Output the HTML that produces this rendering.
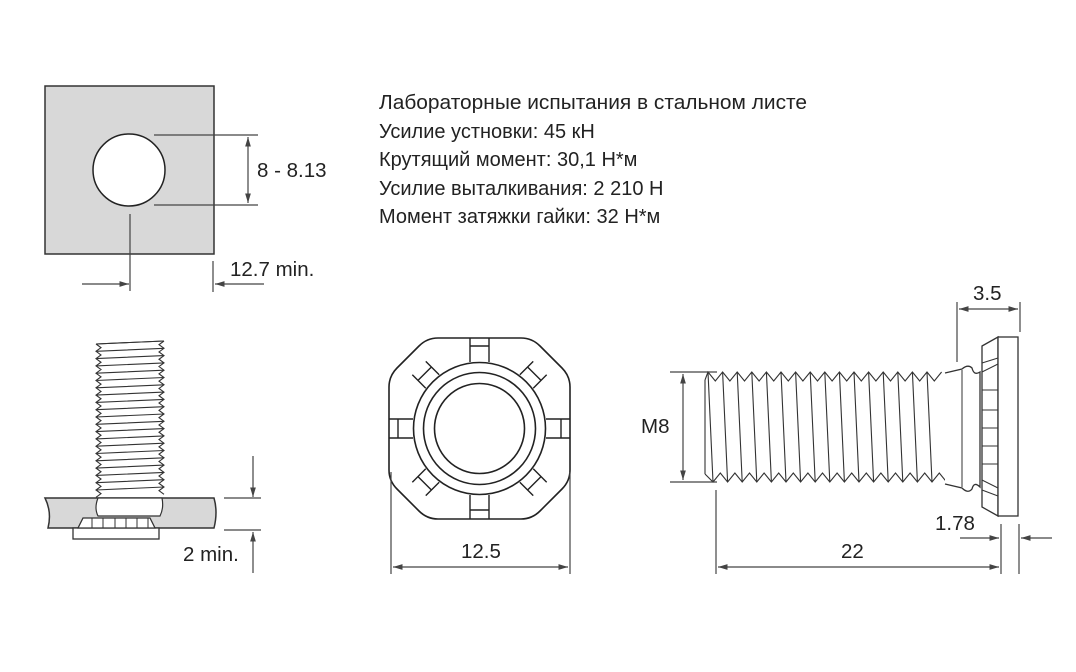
<!DOCTYPE html>
<html><head><meta charset="utf-8"><style>
html,body{margin:0;padding:0;background:#fff;}
svg{display:block;}
text{font-family:"Liberation Sans",sans-serif;fill:#222;}
</style></head><body>
<svg id="s" width="1076" height="672" viewBox="0 0 1076 672" xmlns="http://www.w3.org/2000/svg">
<defs>
<marker id="a" viewBox="0 0 10 10" refX="10" refY="5" markerWidth="8" markerHeight="8" orient="auto-start-reverse"><path d="M0,2 L10,5 L0,8 z" fill="#444"/></marker>
</defs>
<rect x="45" y="86" width="169" height="168" fill="#d8d8d8" stroke="#333" stroke-width="1.5"/>
<circle cx="129" cy="170" r="36" fill="#fff" stroke="#222" stroke-width="1.5"/>
<g stroke="#444" stroke-width="1.2" fill="none">
<line x1="154" y1="135" x2="258" y2="135"/><line x1="154" y1="205" x2="258" y2="205"/>
<line x1="248" y1="137" x2="248" y2="203" marker-start="url(#a)" marker-end="url(#a)"/>
<line x1="130" y1="214" x2="130" y2="291"/><line x1="213" y1="261" x2="213" y2="292"/>
<line x1="82" y1="284" x2="129" y2="284" marker-end="url(#a)"/>
<line x1="264" y1="284" x2="215" y2="284" marker-end="url(#a)"/>
</g>
<text x="257" y="177" font-size="20.5">8 - 8.13</text>
<text x="230" y="276" font-size="20.5">12.7 min.</text>
<g font-size="20">
<text x="379" y="109" textLength="428" lengthAdjust="spacingAndGlyphs">Лабораторные испытания в стальном листе</text>
<text x="379" y="138">Усилие устновки: 45 кН</text>
<text x="379" y="166">Крутящий момент: 30,1 Н*м</text>
<text x="379" y="195">Усилие выталкивания: 2 210 Н</text>
<text x="379" y="223">Момент затяжки гайки: 32 Н*м</text>
</g>
<path d="M45,498 L214,498 Q218,512 214,528 L48,528 Q52,512 45,498 z" fill="#d8d8d8" stroke="#333" stroke-width="1.5"/>
<rect x="73" y="528" width="86" height="11" fill="#fff" stroke="#333" stroke-width="1.3"/>
<path d="M78,528 L83,518 L150,518 L155,528 z" fill="#fff" stroke="#333" stroke-width="1.3"/>
<g id="lt" stroke="#333" stroke-width="1.1" fill="none"></g>
<path d="M98,498 Q94,508 98,516 L160,516 Q164,508 162,498 z" fill="#fff" stroke="#333" stroke-width="1.2"/>
<g stroke="#333" stroke-width="1"><line x1="92" y1="518" x2="92" y2="528"/><line x1="103" y1="518" x2="103" y2="528"/><line x1="115" y1="518" x2="115" y2="528"/><line x1="126" y1="518" x2="126" y2="528"/><line x1="137" y1="518" x2="137" y2="528"/><line x1="148" y1="518" x2="148" y2="528"/></g>
<g stroke="#444" stroke-width="1.2">
<line x1="224" y1="498" x2="261" y2="498"/><line x1="224" y1="530" x2="261" y2="530"/>
<line x1="253" y1="456" x2="253" y2="497" marker-end="url(#a)"/>
<line x1="253" y1="573" x2="253" y2="532" marker-end="url(#a)"/>
</g>
<text x="183" y="561" font-size="20.5">2 min.</text>
<g stroke="#222" stroke-width="1.6" fill="#fff">
<path d="M438,338 L521,338 Q532,338 540,346 L562,368 Q570,376 570,387 L570,470 Q570,481 562,489 L540,511 Q532,519 521,519 L438,519 Q427,519 419,511 L397,489 Q389,481 389,470 L389,387 Q389,376 397,368 L419,346 Q427,338 438,338 z"/>
<circle cx="479.5" cy="428.5" r="66"/>
<circle cx="479.5" cy="428.5" r="56"/>
<circle cx="479.5" cy="428.5" r="45"/>
</g>
<g stroke="#222" stroke-width="1.4" fill="none">
<path d="M470,338 V362 M489,338 V362 M470,346 H489"/>
<path d="M470,519 V495 M489,519 V495 M470,510 H489"/>
<path d="M389,419 H413 M389,438 H413 M398,419 V438"/>
<path d="M570,419 H546 M570,438 H546 M561,419 V438"/>
<g transform="rotate(45 479.5 428.5)"><path d="M470,343 V362 M489,343 V362 M470,351 H489"/><path d="M470,514 V495 M489,514 V495 M470,506 H489"/><path d="M394,419 H413 M394,438 H413 M402,419 V438"/><path d="M565,419 H546 M565,438 H546 M557,419 V438"/></g>
</g>
<g stroke="#444" stroke-width="1.2">
<line x1="391" y1="472" x2="391" y2="574"/><line x1="570" y1="472" x2="570" y2="574"/>
<line x1="393" y1="567" x2="568" y2="567" marker-start="url(#a)" marker-end="url(#a)"/>
</g>
<text x="461" y="558" font-size="20.5">12.5</text>
<g id="rt" stroke="#333" stroke-width="1.1" fill="none"></g>
<g stroke="#333" stroke-width="1.3" fill="#fff">
<path d="M945,373 L962,369 Q968,364 972,368 Q974,376 980,372 L980,487 Q974,481 972,489 Q968,494 962,488 L945,484"/>
<path d="M982,346 L998,337 L998,516 L982,507 z"/>
<rect x="998" y="337" width="20" height="179"/>
</g>
<g stroke="#333" stroke-width="1"><line x1="962" y1="370" x2="962" y2="487"/><line x1="982" y1="363" x2="998" y2="358"/><line x1="982" y1="372" x2="998" y2="364"/><line x1="982" y1="390" x2="998" y2="390"/><line x1="982" y1="410" x2="998" y2="410"/><line x1="982" y1="428" x2="998" y2="428"/><line x1="982" y1="446" x2="998" y2="446"/><line x1="982" y1="464" x2="998" y2="464"/><line x1="982" y1="480" x2="998" y2="488"/><line x1="982" y1="490" x2="998" y2="496"/></g>
<g stroke="#444" stroke-width="1.2">
<line x1="957" y1="302" x2="957" y2="362"/><line x1="1020" y1="302" x2="1020" y2="332"/>
<line x1="959" y1="309" x2="1018" y2="309" marker-start="url(#a)" marker-end="url(#a)"/>
<line x1="670" y1="372" x2="717" y2="372"/><line x1="670" y1="482" x2="717" y2="482"/>
<line x1="683" y1="374" x2="683" y2="480" marker-start="url(#a)" marker-end="url(#a)"/>
<line x1="716" y1="490" x2="716" y2="574"/><line x1="1001" y1="524" x2="1001" y2="574"/><line x1="1019" y1="524" x2="1019" y2="574"/>
<line x1="718" y1="567" x2="999" y2="567" marker-start="url(#a)" marker-end="url(#a)"/>
<line x1="960" y1="538" x2="999" y2="538" marker-end="url(#a)"/>
<line x1="1052" y1="538" x2="1021" y2="538" marker-end="url(#a)"/>
</g>
<text x="973" y="300" font-size="20.5">3.5</text>
<text x="641" y="433" font-size="20.5">M8</text>
<text x="935" y="530" font-size="20.5">1.78</text>
<text x="841" y="558" font-size="20.5">22</text>
</svg>
<script>
(function(){
var NS="http://www.w3.org/2000/svg";
function P(g,d,f){var p=document.createElementNS(NS,"path");p.setAttribute("d",d);if(f)p.setAttribute("fill",f);g.appendChild(p);}
var g=document.getElementById("rt");var s=14.6,x0=708,top=372,bot=482;
var up="M705,380 L"+x0+","+top,dn="M705,474 L"+(x0+5)+","+bot;var ln="";
for(var i=0;i<16;i++){var x=x0+i*s;up+=" L"+(x+s/2)+","+(top+9)+" L"+(x+s)+","+top;dn+=" L"+(x+5+s/2)+","+(bot-9)+" L"+(x+5+s)+","+bot;ln+="M"+x+","+top+" L"+(x+5)+","+bot+" ";}
P(g,"M705,380 V474");P(g,up);P(g,dn);P(g,ln+"M947,372 L951,482");
var h=document.getElementById("lt");var t=7.3,y0=344,L=96,R=164;var lp="M"+L+","+y0,rp="M"+R+","+(y0-3),ll="";
for(var j=0;j<21;j++){var y=y0+j*t;lp+=" L"+(L+5)+","+(y+t/2)+" L"+L+","+(y+t);rp+=" L"+(R-5)+","+(y-3+t/2)+" L"+R+","+(y-3+t);ll+="M"+L+","+y+" L"+R+","+(y-3)+" ";}
P(h,"M"+L+","+y0+" L"+R+","+(y0-3));P(h,lp);P(h,rp);P(h,ll);
})();
</script>
</body></html>
